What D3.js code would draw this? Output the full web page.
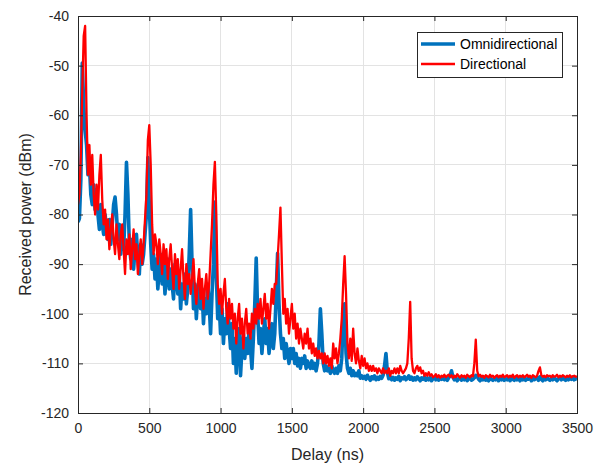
<!DOCTYPE html>
<html>
<head>
<meta charset="utf-8">
<script src="https://cdn.jsdelivr.net/npm/d3@7"></script>
<style>
  html, body { margin: 0; padding: 0; background: #fff; }
  svg { display: block; font-family: "Liberation Sans", Arial, Helvetica, sans-serif; }
</style>
</head>
<body>
<svg id="chart" width="610" height="468"></svg>
<script>
// ---- data (sampled every 10 ns from 0 to 3500 ns) ----
const delayStep = 10;
const xTicks = [0, 500, 1000, 1500, 2000, 2500, 3000, 3500];
const yTicks = [-120, -110, -100, -90, -80, -70, -60, -50, -40];
const seriesNames = ["Omnidirectional", "Directional"];

const omni = [
  -81.5,-80.8,-73,-49.5,-58,-63,-66,-72,-70,-76,
  -78,-74,-79,-75,-80,-83,-78,-82,-84,-80,
  -83,-85,-81,-86,-82,-78,-76.5,-80,-85,-82,
  -88,-84,-87,-80,-69.5,-76,-86,-89,-85,-91,
  -87,-84,-89,-92,-86,-90,-88,-84,-80,-68.5,
  -78,-86,-91,-88,-93,-89,-95,-91,-88,-94,
  -90,-96,-92,-89,-95,-91,-94,-97,-90,-93,
  -96,-92,-99,-94,-97,-92,-98,-95,-88,-79,
  -90,-99,-94,-101,-96,-93,-99,-95,-102,-97,
  -100,-94,-98,-104,-96,-90,-77.5,-92,-101,-98,
  -104,-99,-106,-101,-104,-98,-103,-107,-102,-110,
  -105,-112,-106,-103,-112.5,-107,-104,-109,-105,-108,
  -103,-107,-111,-105,-98,-88.8,-100,-106,-103,-108,
  -104,-101,-106,-103,-108,-105,-102,-107,-104,-96,
  -87.8,-98,-104,-107,-105,-109,-106,-108,-110,-107,
  -109,-107,-110,-108,-110.5,-109,-111,-109,-110,-108.5,
  -111,-109.5,-110.5,-111,-109.5,-111,-110,-111.5,-110,-106,
  -99,-104,-110,-111.5,-110.5,-111.5,-111,-112,-110.5,-111.5,
  -112,-111,-112,-110.5,-111.5,-109,-101,-98,-108,-111,
  -112,-111,-112.5,-111.5,-112.5,-112,-112.5,-111.5,-113,-112.5,
  -113,-112.6,-113.2,-112.4,-113.0,-113.4,-112.7,-113.1,-112.5,-113.3,
  -112.8,-113.2,-112.6,-113.0,-112.4,-110.5,-108,-111.8,-113.1,-112.7,
  -113.3,-112.8,-113.4,-112.9,-113.2,-112.6,-113.5,-112.9,-113.1,-112.7,
  -113.3,-113.0,-112.5,-113.2,-112.8,-113.4,-112.9,-113.3,-112.7,-113.1,
  -113.5,-112.9,-113.2,-112.7,-113.4,-113.0,-113.3,-112.8,-113.5,-113.1,
  -112.9,-113.3,-112.8,-113.4,-113.0,-113.2,-112.7,-113.3,-113.0,-113.4,
  -112.9,-112.5,-111.5,-112.8,-113.3,-113.0,-113.5,-113.1,-112.8,-113.4,
  -113.0,-113.3,-112.9,-113.5,-113.1,-112.8,-113.4,-113.2,-112.9,-112.4,
  -112.6,-113.2,-113.5,-113.0,-113.3,-112.8,-113.4,-113.1,-113.5,-112.9,
  -113.2,-113.4,-113.0,-113.3,-112.8,-113.5,-113.1,-113.3,-112.9,-113.4,
  -113.1,-113.3,-112.9,-113.5,-113.0,-113.2,-113.4,-112.8,-113.3,-113.1,
  -113.5,-113.0,-113.3,-112.9,-113.4,-113.1,-113.2,-112.8,-113.5,-113.0,
  -113.3,-113.1,-112.9,-113.4,-112.7,-113.2,-113.5,-113.0,-113.3,-112.9,
  -113.2,-113.4,-113.0,-113.3,-112.8,-113.2,-113.5,-113.1,-112.9,-113.3,
  -113.0,-113.2,-113.4,-112.9,-113.3,-113.0,-113.2,-112.8,-113.3,-113.1,
  -113.2
];

const directional = [
  -78,-76,-68,-55,-44,-42,-60,-72,-66,-74,
  -68,-76,-80,-74,-79,-72,-68,-77,-82,-79,
  -85,-81,-87,-83,-80,-85,-88,-82,-86,-89,
  -84,-82,-87,-92,-85,-88,-84,-91,-87,-83,
  -89,-86,-92,-88,-85,-90,-86,-81,-76,-65,
  -62,-70,-82,-88,-84,-86,-90,-85,-88,-92,
  -86,-90,-87,-93,-89,-86,-91,-95,-88,-92,
  -89,-95,-91,-87,-93,-97,-90,-94,-92,-96,
  -93,-89,-95,-98,-94,-91,-97,-93,-99,-95,
  -92,-97,-94,-88,-82,-74,-69.4,-80,-94,-98,
  -95,-100,-96,-93,-99,-102,-97,-101,-98,-103,
  -100,-106,-101,-98,-104,-101,-107,-102,-99,-104,
  -102,-105,-100,-103,-99,-102,-98,-101,-97,-102,
  -99,-96,-101,-98,-103,-99,-95,-98,-94,-94,
  -89,-84,-78.6,-90,-100,-97,-102,-99,-104,-101,
  -98,-103,-100,-105,-102,-106,-103,-105,-107,-104,
  -106,-103,-107,-105,-108,-106,-108.5,-107,-109,-107.5,
  -109,-108,-110,-108,-110,-108.5,-110.5,-109,-111,-106,
  -109,-107,-110,-108,-105,-101,-94,-88.4,-96,-106,
  -109,-105,-109.5,-103,-108,-110,-107,-109.5,-111,-108.5,
  -110.5,-109,-111,-110,-111.5,-110.5,-111.5,-110.5,-111.5,-111,
  -112,-111,-111.5,-112,-111,-112,-111.5,-112,-111,-112.5,
  -111.5,-112,-111,-112,-111,-112,-110.5,-111.5,-112,-111.5,
  -111,-110,-105,-97.6,-109,-111.5,-112,-111,-110.5,-111.5,
  -110.8,-112,-111.5,-112.5,-112,-112.5,-111.8,-112.5,-112.2,-112.8,
  -112.6,-112.2,-112.8,-112.4,-112.9,-112.5,-112.7,-112.3,-112.8,-112.5,
  -112.3,-112.7,-112.4,-112.9,-112.5,-112.8,-112.2,-112.6,-112.9,-112.4,
  -112.7,-112.5,-112.9,-112.3,-112.6,-112.8,-112.4,-112.6,-110,-105.2,
  -111.5,-112.6,-112.3,-112.7,-112.5,-112.9,-112.4,-112.6,-112.8,-112.3,
  -112.7,-112.5,-112.9,-112.6,-112.4,-112.8,-112.5,-112.7,-112.3,-112.8,
  -112.6,-112.4,-112.8,-112.5,-112.7,-112.3,-112.9,-112.6,-112.4,-112.8,
  -112.5,-112.7,-112.4,-112.8,-112.6,-112.3,-112.7,-112.5,-112.9,-112.4,
  -112.6,-112.8,-112.5,-111.5,-110.8,-112.4,-112.7,-112.5,-112.8,-112.4,
  -112.6,-112.5,-112.8,-112.4,-112.7,-112.6,-112.3,-112.8,-112.5,-112.7,
  -112.4,-112.6,-112.8,-112.5,-112.7,-112.4,-112.8,-112.6,-112.5,-112.7,
  -112.6
];

// ---- layout ----
const W = 610, H = 468;
const margin = { left: 78, top: 16, right: 33, bottom: 55 };
const pw = W - margin.left - margin.right;
const ph = H - margin.top - margin.bottom;
const axisColor = "#262626";
const gridColor = "#e3e3e3";
const blue = "#0072BD", red = "#FF0000";

const svg = d3.select("#chart");
const g = svg.append("g").attr("transform", `translate(${margin.left},${margin.top})`);

const x = d3.scaleLinear().domain([0, 3500]).range([0, pw]);
const y = d3.scaleLinear().domain([-120, -40]).range([ph, 0]);

// grid
g.append("g").selectAll("line.gx").data(xTicks).join("line")
  .attr("x1", d => x(d)).attr("x2", d => x(d)).attr("y1", 0).attr("y2", ph)
  .attr("stroke", gridColor).attr("stroke-width", 1).attr("shape-rendering", "crispEdges");
g.append("g").selectAll("line.gy").data(yTicks).join("line")
  .attr("x1", 0).attr("x2", pw).attr("y1", d => y(d)).attr("y2", d => y(d))
  .attr("stroke", gridColor).attr("stroke-width", 1).attr("shape-rendering", "crispEdges");

// clip
svg.append("defs").append("clipPath").attr("id", "clip")
  .append("rect").attr("x", 0).attr("y", 0).attr("width", pw).attr("height", ph);

const line = d3.line().x((d, i) => x(i * delayStep)).y(d => y(d));

const plot = g.append("g").attr("clip-path", "url(#clip)");
plot.append("path").datum(omni).attr("d", line)
  .attr("fill", "none").attr("stroke", blue).attr("stroke-width", 3.6).attr("stroke-linejoin", "round");
plot.append("path").datum(directional).attr("d", line)
  .attr("fill", "none").attr("stroke", red).attr("stroke-width", 2.3).attr("stroke-linejoin", "round");

// axes (ticks inward on all sides)
const tickLen = 5;
const fmt = d => String(d);   // plain hyphen-minus, as in the reference
const styleAxis = (sel) => {
  sel.select(".domain").remove();
  sel.selectAll(".tick line").attr("stroke", axisColor).attr("stroke-width", 1);
  sel.selectAll(".tick text").attr("fill", axisColor).attr("font-size", 14)
    .attr("font-family", "'Liberation Sans', Arial, sans-serif");
};
g.append("g").attr("transform", `translate(0,${ph})`)
  .call(d3.axisBottom(x).tickValues(xTicks).tickFormat(fmt).tickSizeInner(-tickLen).tickSizeOuter(0).tickPadding(10))
  .call(styleAxis);
g.append("g")
  .call(d3.axisTop(x).tickValues(xTicks).tickFormat("").tickSizeInner(-tickLen).tickSizeOuter(0))
  .call(styleAxis);
g.append("g")
  .call(d3.axisLeft(y).tickValues(yTicks).tickFormat(fmt).tickSizeInner(-tickLen).tickSizeOuter(0).tickPadding(9))
  .call(styleAxis);
g.append("g").attr("transform", `translate(${pw},0)`)
  .call(d3.axisRight(y).tickValues(yTicks).tickFormat("").tickSizeInner(-tickLen).tickSizeOuter(0))
  .call(styleAxis);

// box
g.append("rect").attr("x", 0).attr("y", 0).attr("width", pw).attr("height", ph)
  .attr("fill", "none").attr("stroke", axisColor).attr("stroke-width", 1).attr("shape-rendering", "crispEdges");

// axis labels
svg.append("text").attr("x", margin.left + pw / 2).attr("y", 460)
  .attr("text-anchor", "middle").attr("font-size", 16).attr("fill", axisColor)
  .text("Delay (ns)");
svg.append("text").attr("transform", `translate(31,${margin.top + ph / 2}) rotate(-90)`)
  .attr("text-anchor", "middle").attr("font-size", 16).attr("fill", axisColor)
  .text("Received power (dBm)");

// legend
const lg = svg.append("g").attr("transform", "translate(417,32)");
lg.append("rect").attr("x", 0).attr("y", 0).attr("width", 145).attr("height", 45)
  .attr("fill", "#fff").attr("stroke", axisColor).attr("stroke-width", 1).attr("shape-rendering", "crispEdges");
const legendItems = [
  { name: seriesNames[0], color: blue, w: 3.6 },
  { name: seriesNames[1], color: red, w: 2.3 }
];
legendItems.forEach((it, i) => {
  const cy = 12 + i * 20;
  lg.append("line").attr("x1", 4).attr("x2", 38).attr("y1", cy).attr("y2", cy)
    .attr("stroke", it.color).attr("stroke-width", it.w);
  lg.append("text").attr("x", 43).attr("y", cy).attr("dy", "0.35em")
    .attr("font-size", 14).attr("fill", "#000").text(it.name);
});
</script>
</body>
</html>
